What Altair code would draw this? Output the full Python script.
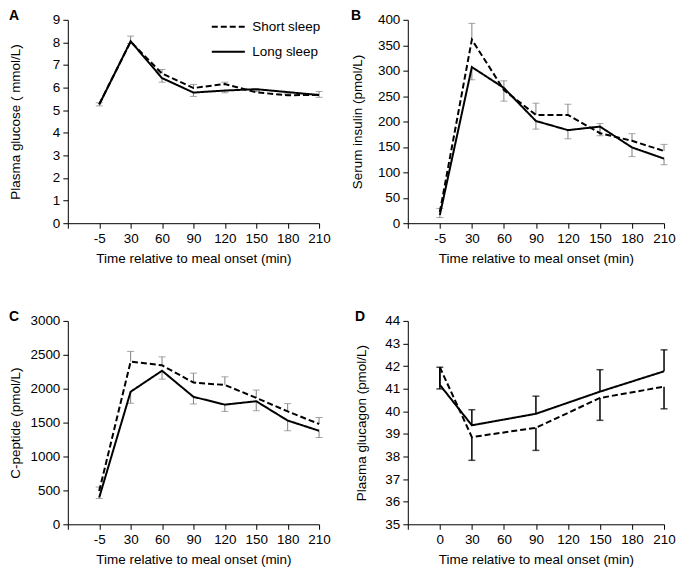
import json
import altair as alt
import pandas as pd

FONT = "Liberation Sans"

series_names = ["Short sleep", "Long sleep"]

# x-axis categories
time_meal = [-5, 30, 60, 90, 120, 150, 180, 210]
meal_tick_labels = ["-5", "30", "60", "90", "120", "150", "180", "210"]
time_glucagon = [0, 30, 90, 150, 210]
glucagon_tick_labels = ["0", "30", "60", "90", "120", "150", "180", "210"]

# Panel A: plasma glucose (mmol/L)
glucose_short = [5.27, 8.03, 6.62, 5.98, 6.16, 5.79, 5.66, 5.68]
glucose_short_err = [0.06, 0.25, 0.18, 0.16, 0.08, 0.05, 0.04, 0.15]
glucose_long = [5.25, 8.05, 6.42, 5.78, 5.87, 5.93, 5.80, 5.67]
glucose_long_err = [0.06, 0.10, 0.18, 0.17, 0.10, 0.05, 0.05, 0.10]

# Panel B: serum insulin (pmol/L)
insulin_short = [22, 361, 262, 213, 213, 177, 162, 142]
insulin_short_err = [7, 32, 18, 23, 21, 19, 14, 13]
insulin_long = [16, 307, 266, 201, 183, 190, 149, 127]
insulin_long_err = [5, 25, 26, 16, 17, 18, 18, 12]

# Panel C: C-peptide (pmol/L)
cpep_short = [490, 2400, 2345, 2090, 2055, 1865, 1665, 1480]
cpep_short_err = [60, 150, 125, 140, 120, 115, 115, 95]
cpep_long = [395, 1955, 2265, 1880, 1765, 1815, 1530, 1380]
cpep_long_err = [15, 170, 125, 105, 100, 140, 150, 100]

# Panel D: plasma glucagon (pmol/L)
glucagon_short = [41.95, 38.86, 39.27, 40.59, 41.09]
glucagon_short_err = [0.96, 1.03, 1.00, 0.99, 0.98]
glucagon_long = [41.17, 39.38, 39.89, 40.87, 41.77]
glucagon_long_err = [0.78, 0.69, 0.78, 0.97, 0.95]


def build_df(positions, short, short_err, long_, long_err, short_up):
    rows = []
    for p, v, e in zip(positions, short, short_err):
        lo, hi = (v, v + e) if short_up else (v - e, v)
        rows.append(dict(pos=p, value=v, series="Short sleep", lo=lo, hi=hi,
                         cap=hi if short_up else lo))
    for p, v, e in zip(positions, long_, long_err):
        lo, hi = (v - e, v) if short_up else (v, v + e)
        rows.append(dict(pos=p, value=v, series="Long sleep", lo=lo, hi=hi,
                         cap=lo if short_up else hi))
    return pd.DataFrame(rows)


meal_pos = [i + 1 for i in range(len(time_meal))]
glucagon_pos = [t / 30 + 1 for t in time_glucagon]

df_a = build_df(meal_pos, glucose_short, glucose_short_err, glucose_long, glucose_long_err, True)
df_b = build_df(meal_pos, insulin_short, insulin_short_err, insulin_long, insulin_long_err, True)
df_c = build_df(meal_pos, cpep_short, cpep_short_err, cpep_long, cpep_long_err, True)
df_d = build_df(glucagon_pos, glucagon_short, glucagon_short_err, glucagon_long, glucagon_long_err, False)


def panel(df, letter, ytitle, ydomain, ystep, xlabels, errcolor, errwidth,
          width, height, ytitle_x, legend):
    label_expr = "datum.value == 0 ? '' : " + json.dumps(xlabels) + "[datum.value - 1]"
    x = alt.X("pos:Q", scale=alt.Scale(domain=[0, 8], nice=False),
              axis=alt.Axis(values=list(range(9)), labelExpr=label_expr,
                            labelOverlap=False, labelFlush=False,
                            title="Time relative to meal onset (min)"))
    yvals = []
    v = ydomain[0]
    while v <= ydomain[1] + 1e-9:
        yvals.append(v)
        v += ystep
    yscale = alt.Scale(domain=ydomain, nice=False, zero=False)
    yaxis = alt.Axis(values=yvals, title=ytitle, format="d", labelOverlap=False,
                     labelFlush=False, titleX=ytitle_x, titleBaseline="middle")
    base = alt.Chart(df)
    bars = base.mark_rule(color=errcolor, strokeWidth=errwidth).encode(
        x=x, y=alt.Y("lo:Q", scale=yscale, axis=yaxis), y2="hi:Q")
    caps = base.mark_tick(color=errcolor, orient="horizontal", size=7,
                          thickness=errwidth).encode(
        x=x, y=alt.Y("cap:Q", scale=yscale, axis=yaxis))
    if legend:
        leg = alt.Legend(title=None, orient="none", legendX=143, legendY=-11,
                         symbolType="stroke", symbolSize=1100, symbolStrokeWidth=2,
                         symbolStrokeColor="black", labelFontSize=13.5, labelFont=FONT,
                         labelColor="black", rowPadding=-9, labelOffset=6)
    else:
        leg = None
    lines = base.mark_line(color="black", strokeWidth=2).encode(
        x=x, y=alt.Y("value:Q", scale=yscale, axis=yaxis),
        strokeDash=alt.StrokeDash("series:N",
                                  scale=alt.Scale(domain=series_names, range=[[6, 3], [1, 0]]),
                                  legend=leg),
        order="pos:Q")
    return alt.layer(bars, caps, lines).properties(
        width=width, height=height,
        title=alt.TitleParams(letter, anchor="start", frame="bounds", fontSize=14,
                              fontWeight="bold", font=FONT, color="black", offset=-10))


a = panel(df_a, "A", "Plasma glucose ( mmol/L)", [0, 9], 1, meal_tick_labels, "#7f7f7f", 1,
          252, 204, -52, True)
b = panel(df_b, "B", "Serum insulin (pmol/L)", [0, 400], 50, meal_tick_labels, "#7f7f7f", 1,
          257, 204, -50, False)
c = panel(df_c, "C", "C-peptide (pmol/L)", [0, 3000], 500, meal_tick_labels, "#7f7f7f", 1,
          252, 204, -52, False)
d = panel(df_d, "D", "Plasma glucagon (pmol/L)", [35, 44], 1, glucagon_tick_labels, "black", 1.5,
          257, 204, -46, False)

chart = alt.vconcat(
    alt.hconcat(a, b, spacing=19),
    alt.hconcat(c, d, spacing=23),
    spacing=45,
).properties(
    padding={"left": 0, "top": 0, "right": 0, "bottom": 0}
).configure_view(stroke=None).configure_axis(
    labelFont=FONT, titleFont=FONT, labelFontSize=13.5, titleFontSize=13.5,
    titleFontWeight="normal", labelColor="black", titleColor="black",
    domainColor="black", tickColor="black", tickSize=5, grid=False,
    labelPadding=3, titlePadding=7,
)

chart.save("out.html", embed_options={"renderer": "svg", "actions": False})
